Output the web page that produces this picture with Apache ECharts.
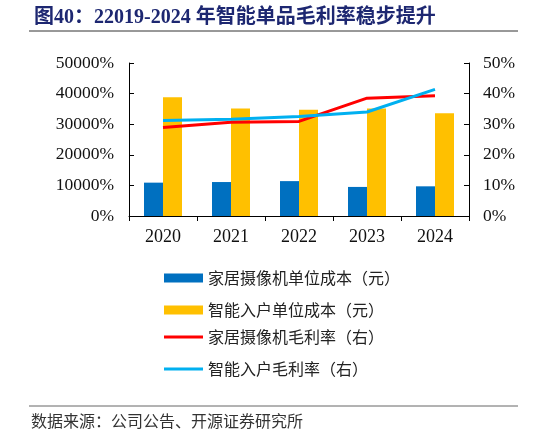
<!DOCTYPE html>
<html>
<head>
<meta charset="utf-8">
<script src="https://cdn.jsdelivr.net/npm/echarts@6/dist/echarts.min.js"></script>
<style>
  html, body { margin: 0; padding: 0; background: #fff; }
  #chart { width: 546px; height: 436px; }
</style>
</head>
<body>
<div id="chart"></div>
<script>
const YEARS = ["2020", "2021", "2022", "2023", "2024"];
const CAMERA_COST = [10900, 11100, 11400, 9500, 9700];
const DOOR_COST = [38800, 35100, 34700, 35100, 33600];
const CAMERA_MARGIN = [28.9, 30.6, 30.9, 38.5, 39.3];
const DOOR_MARGIN = [31.2, 31.6, 32.5, 34.0, 41.4];
const NAMES = ["家居摄像机单位成本（元）", "智能入户单位成本（元）", "家居摄像机毛利率（右）", "智能入户毛利率（右）"];

const SERIF = "'Liberation Serif', 'Times New Roman', serif";
const CJK = "'Liberation Serif', 'Noto Sans CJK SC', serif";
const legendText = { color: "#222", fontSize: 16, fontFamily: "'Noto Sans CJK SC'" };
const pct = (value) => value + "%";

const chart = echarts.init(document.getElementById("chart"));
chart.setOption({
  animation: false,
  title: {
    text: "图40：22019-2024 年智能单品毛利率稳步提升",
    left: 29,
    top: 3,
    textStyle: { color: "#1d2771", fontSize: 20, fontWeight: "bold", fontFamily: CJK }
  },
  graphic: [
    { type: "line", shape: { x1: 29, y1: 31, x2: 518, y2: 31 }, style: { stroke: "#333", lineWidth: 1 } },
    { type: "line", shape: { x1: 29, y1: 406, x2: 518, y2: 406 }, style: { stroke: "#666", lineWidth: 1 } },
    {
      type: "text", left: 31, top: 413,
      style: { text: "数据来源：公司公告、开源证券研究所", fill: "#333", font: "16px 'Noto Sans CJK SC'" }
    }
  ],
  grid: { left: 129, right: 77, top: 63, bottom: 220, containLabel: false },
  legend: [
    {
      orient: "vertical", left: 159, top: 265,
      itemWidth: 39, itemHeight: 9, itemGap: 16, icon: "rect",
      data: NAMES.slice(0, 2), textStyle: legendText
    },
    {
      orient: "vertical", left: 159, top: 324,
      itemWidth: 39, itemHeight: 3, itemGap: 16, icon: "rect",
      data: NAMES.slice(2), textStyle: legendText
    }
  ],
  xAxis: {
    type: "category",
    data: YEARS,
    axisLine: { lineStyle: { color: "#000", width: 1 } },
    axisTick: { show: true, inside: false, length: 5, lineStyle: { color: "#000" } },
    axisLabel: { color: "#111", fontSize: 18, fontFamily: SERIF, margin: 12 }
  },
  yAxis: [
    {
      type: "value", min: 0, max: 50000, interval: 10000,
      axisLine: { show: true, lineStyle: { color: "#000" } },
      axisTick: { show: true, inside: true, length: 5, lineStyle: { color: "#000" } },
      splitLine: { show: false },
      axisLabel: { color: "#111", fontSize: 17.5, fontFamily: SERIF, margin: 15, formatter: pct }
    },
    {
      type: "value", min: 0, max: 50, interval: 10,
      axisLine: { show: true, lineStyle: { color: "#000" } },
      axisTick: { show: true, inside: true, length: 5, lineStyle: { color: "#000" } },
      splitLine: { show: false },
      axisLabel: { color: "#111", fontSize: 17.5, fontFamily: SERIF, margin: 14, formatter: pct }
    }
  ],
  series: [
    { name: NAMES[0], type: "bar", data: CAMERA_COST, barWidth: 19, barGap: "0%", itemStyle: { color: "#0070c0" } },
    { name: NAMES[1], type: "bar", data: DOOR_COST, barWidth: 19, barGap: "0%", itemStyle: { color: "#ffc000" } },
    {
      name: NAMES[2], type: "line", yAxisIndex: 1, data: CAMERA_MARGIN,
      symbol: "none", lineStyle: { color: "#ff0000", width: 3 }, itemStyle: { color: "#ff0000" }
    },
    {
      name: NAMES[3], type: "line", yAxisIndex: 1, data: DOOR_MARGIN,
      symbol: "none", lineStyle: { color: "#00b0f0", width: 3 }, itemStyle: { color: "#00b0f0" }
    }
  ]
});
</script>
</body>
</html>
